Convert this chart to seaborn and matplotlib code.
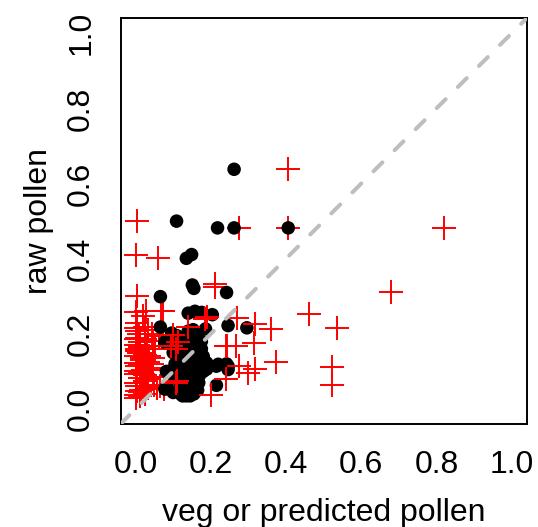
import numpy as np
import pandas as pd
import matplotlib
matplotlib.use('Agg')
import matplotlib.pyplot as plt
import seaborn as sns

# black dots: veg vs raw pollen
veg_black = [0.262, 0.109, 0.218, 0.262, 0.406, 0.135, 0.149, 0.151, 0.155, 0.066,
             0.242, 0.140, 0.158, 0.176, 0.204, 0.066, 0.186, 0.246, 0.296, 0.096,
             0.140, 0.118, 0.078, 0.110, 0.160, 0.170, 0.175, 0.150, 0.130, 0.120,
             0.140, 0.160, 0.170, 0.180, 0.150, 0.130, 0.120, 0.140, 0.150, 0.130,
             0.120, 0.140, 0.160, 0.100, 0.090, 0.110, 0.085, 0.078, 0.184, 0.220,
             0.246, 0.246, 0.215, 0.100, 0.105, 0.155, 0.120, 0.171, 0.189, 0.162,
             0.136, 0.100, 0.082, 0.153,
             0.125, 0.135, 0.145, 0.155, 0.165, 0.128, 0.138, 0.148, 0.158, 0.168,
             0.122, 0.132, 0.142, 0.152, 0.162, 0.172, 0.127, 0.137, 0.147, 0.157,
             0.115, 0.125, 0.145, 0.165, 0.175, 0.112, 0.133, 0.152, 0.180, 0.105,
             0.215, 0.242, 0.189, 0.145, 0.165, 0.130]
pol_black = [0.638, 0.500, 0.482, 0.482, 0.482, 0.401, 0.411, 0.330, 0.321, 0.299,
             0.310, 0.255, 0.260, 0.257, 0.251, 0.218, 0.213, 0.222, 0.216, 0.202,
             0.207, 0.185, 0.178, 0.195, 0.170, 0.150, 0.160, 0.140, 0.130, 0.120,
             0.110, 0.100, 0.090, 0.100, 0.085, 0.075, 0.065, 0.060, 0.050, 0.045,
             0.040, 0.040, 0.060, 0.090, 0.100, 0.080, 0.055, 0.053, 0.123, 0.119,
             0.114, 0.105, 0.063, 0.150, 0.165, 0.190, 0.155, 0.159, 0.106, 0.088,
             0.044, 0.044, 0.100, 0.211,
             0.035, 0.035, 0.035, 0.040, 0.050, 0.055, 0.050, 0.065, 0.075, 0.070,
             0.085, 0.090, 0.080, 0.095, 0.110, 0.125, 0.105, 0.120, 0.115, 0.130,
             0.140, 0.145, 0.160, 0.140, 0.180, 0.130, 0.170, 0.175, 0.140, 0.120,
             0.114, 0.120, 0.123, 0.200, 0.195, 0.185]

# red crosses: predicted vs raw pollen
veg_red = [0.404, 0.003, 0.274, 0.404, 0.820, 0.000, 0.059, 0.679, 0.003, 0.210,
           0.210, 0.462, 0.535, 0.359, 0.318, 0.270, 0.067, 0.000, 0.021, 0.523,
           0.523, 0.374, 0.315, 0.267, 0.240, 0.318, 0.299, 0.276, 0.240, 0.200,
           0.108, 0.076, 0.057, 0.108, 0.112, 0.094, 0.140, 0.185, 0.189, 0.242,
           0.003, 0.026, 0.044, 0.000, 0.012, 0.030, 0.053, 0.000, 0.016, 0.002,
           0.003, 0.021, 0.039, 0.000, 0.012, 0.030, 0.000, 0.021, 0.048, 0.003,
           0.001, 0.012, 0.062, 0.028, 0.073, 0.008, 0.018, 0.035, 0.005, 0.025,
           0.010, 0.045, 0.015, 0.004,
           0.000, 0.003, 0.013, 0.025, 0.033, 0.046, 0.000, 0.013, 0.025, 0.033,
           0.003, 0.025, 0.046, 0.000, 0.013, 0.033, 0.003, 0.025, 0.013, 0.000,
           0.065, 0.109, 0.100, 0.046, 0.033]
pol_red = [0.638, 0.500, 0.482, 0.482, 0.483, 0.411, 0.401, 0.311, 0.300, 0.333,
           0.324, 0.253, 0.216, 0.214, 0.225, 0.242, 0.261, 0.257, 0.248, 0.112,
           0.063, 0.125, 0.176, 0.167, 0.167, 0.106, 0.097, 0.114, 0.081, 0.037,
           0.070, 0.052, 0.056, 0.159, 0.177, 0.168, 0.217, 0.239, 0.245, 0.167,
           0.208, 0.217, 0.199, 0.186, 0.177, 0.168, 0.159, 0.141, 0.136, 0.123,
           0.114, 0.105, 0.110, 0.092, 0.083, 0.079, 0.070, 0.061, 0.065, 0.047,
           0.038, 0.034, 0.194, 0.260, 0.260, 0.150, 0.130, 0.140, 0.160, 0.090,
           0.200, 0.120, 0.050, 0.230,
           0.215, 0.190, 0.165, 0.145, 0.125, 0.135, 0.100, 0.095, 0.075, 0.055,
           0.060, 0.040, 0.085, 0.170, 0.120, 0.105, 0.155, 0.185, 0.045, 0.030,
           0.062, 0.075, 0.198, 0.180, 0.210]

ticks = [0.0, 0.2, 0.4, 0.6, 0.8, 1.0]
tick_labels = ['0.0', '0.2', '0.4', '0.6', '0.8', '1.0']

sns.set_style('white')
plt.rcParams['font.family'] = ['Liberation Sans', 'DejaVu Sans']
plt.rcParams['text.color'] = 'black'
plt.rcParams['axes.labelcolor'] = 'black'
plt.rcParams['xtick.color'] = 'black'
plt.rcParams['ytick.color'] = 'black'

red = pd.DataFrame({'veg': veg_red, 'pollen': pol_red})
# crosses in the middle of the cloud were drawn over the dots
front = red[(red['veg'] > 0.08) & (red['veg'] < 0.35) & (red['pollen'] < 0.3)]
back = red.drop(front.index)

fig = plt.figure(figsize=(5.38, 5.27), dpi=100)
ax = fig.add_axes([0.224, 0.1954, 0.755, 0.770])

sns.scatterplot(data=back, x='veg', y='pollen', marker='+', color='red', s=280,
                linewidth=1.4, ax=ax, zorder=2)
sns.scatterplot(x=veg_black, y=pol_black, color='black', s=95,
                edgecolor='none', ax=ax, zorder=3)
sns.scatterplot(data=front, x='veg', y='pollen', marker='+', color='red', s=280,
                linewidth=1.4, ax=ax, zorder=3.5)

# 1:1 line
ax.plot([-0.04, 1.04], [-0.04, 1.04], color='#BEBEBE', lw=2.9,
        dashes=(3.1, 4.3), dash_capstyle='round', zorder=4)

ax.set_xlim(-0.04, 1.04)
ax.set_ylim(-0.04, 1.04)
ax.set_xticks(ticks)
ax.set_xticklabels(tick_labels)
ax.set_yticks(ticks)
ax.set_yticklabels(tick_labels)
for lab in ax.get_yticklabels():
    lab.set_rotation(90)
    lab.set_va('center')

ax.tick_params(axis='both', labelsize=23, length=9.5, width=1.4,
               direction='out')
ax.tick_params(axis='x', pad=9)
ax.tick_params(axis='y', pad=8)
for sp in ax.spines.values():
    sp.set_color('black')
    sp.set_linewidth(1.4)

ax.set_xlabel('veg or predicted pollen', fontsize=23, labelpad=13)
ax.set_ylabel('raw pollen', fontsize=23, labelpad=9)

plt.savefig('out.png', dpi=100)
